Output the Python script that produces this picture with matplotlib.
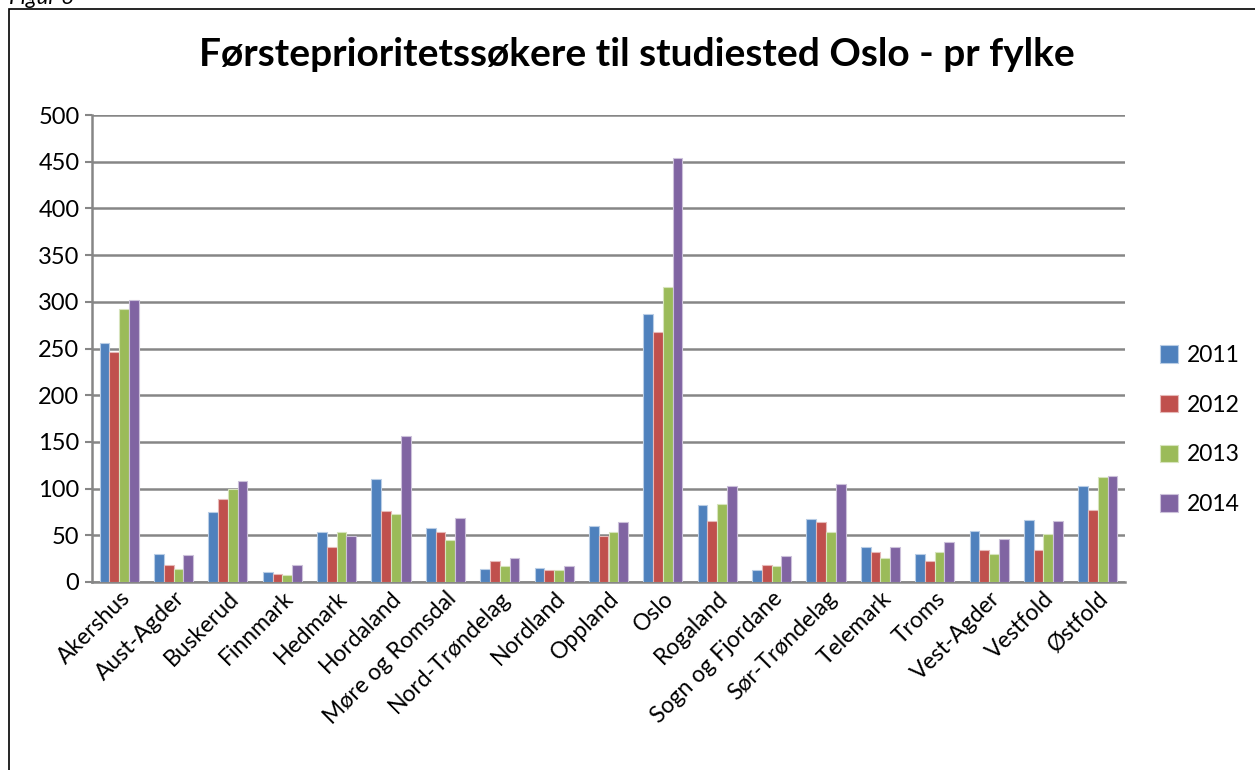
import matplotlib
matplotlib.use("Agg")
import matplotlib.pyplot as plt
import numpy as np
from matplotlib.patches import Rectangle

categories = ["Akershus", "Aust-Agder", "Buskerud", "Finnmark", "Hedmark", "Hordaland",
              "Møre og Romsdal", "Nord-Trøndelag", "Nordland", "Oppland", "Oslo", "Rogaland",
              "Sogn og Fjordane", "Sør-Trøndelag", "Telemark", "Troms", "Vest-Agder",
              "Vestfold", "Østfold"]
years = ["2011", "2012", "2013", "2014"]
v2011 = [256, 30, 75, 11, 53, 110, 58, 14, 15, 60, 287, 82, 13, 67, 37, 30, 55, 66, 103]
v2012 = [246, 18, 89, 9, 38, 76, 54, 22, 13, 49, 268, 65, 18, 64, 32, 22, 34, 34, 77]
v2013 = [292, 14, 100, 8, 53, 73, 45, 17, 13, 54, 316, 83, 17, 53, 26, 32, 30, 51, 112]
v2014 = [302, 29, 108, 18, 49, 156, 68, 26, 17, 64, 454, 103, 28, 105, 37, 43, 46, 65, 114]
yticks = [0, 50, 100, 150, 200, 250, 300, 350, 400, 450, 500]

colors = ["#4F81BD", "#C0504D", "#9BBB59", "#8064A2"]
edges = ["#B9CDE5", "#E6B9B8", "#D7E4BD", "#CCC1DA"]

plt.rcParams['font.family'] = ['Lato', 'DejaVu Sans']

W, H = 1255, 770
fig = plt.figure(figsize=(W / 100, H / 100), dpi=100)
ax = fig.add_axes([92 / W, 1 - 582 / H, (1125 - 92) / W, (582 - 115) / H])

series = [v2011, v2012, v2013, v2014]
x = np.arange(len(categories))
bw = 0.18
for i, (vals, c, ec) in enumerate(zip(series, colors, edges)):
    ax.bar(x + (i - 1.5) * bw, vals, width=bw, color=c, edgecolor=ec, linewidth=0.8,
           label=years[i], zorder=3)

ax.set_xlim(-0.5, len(categories) - 0.5)
ax.set_ylim(0, 500)
ax.set_yticks(yticks)
ax.set_yticklabels([str(t) for t in yticks], fontsize=17)
ax.yaxis.grid(True, color="#868686", linewidth=1.8, zorder=0)
ax.set_axisbelow(True)
for s in ["top", "right"]:
    ax.spines[s].set_visible(False)
ax.spines["left"].set_color("#868686")
ax.spines["bottom"].set_color("#868686")
ax.spines["left"].set_linewidth(1.8)
ax.spines["bottom"].set_linewidth(1.8)
ax.tick_params(axis="y", length=5, color="#868686", width=1.5, pad=4)
ax.tick_params(axis="x", length=0, pad=4)
ax.set_xticks(x)
ax.set_xticklabels(categories, rotation=45, ha="right", rotation_mode="anchor", fontsize=16.5)

fig.text(0.5 * (195 + 1078) / W, 1 - 55 / H, "Førsteprioritetssøkere til studiested Oslo - pr fylke",
         ha="center", va="center", fontsize=28, fontweight="bold")

leg = fig.legend(loc="center left", bbox_to_anchor=(1139 / W, 1 - 430 / H), frameon=False,
                 fontsize=16.5, handlelength=0.8, handleheight=0.8, labelspacing=1.25,
                 handletextpad=0.4)

fig.patches.append(Rectangle((9 / W, -0.1), 1.2, 1 - 9 / H + 0.1, transform=fig.transFigure,
                             fill=False, edgecolor="black", linewidth=1.2))
fig.text(9 / W, 1 - 8 / H, "Figur 6", ha="left", va="bottom", fontsize=16, style="italic")

fig.savefig("out.png", dpi=100)
